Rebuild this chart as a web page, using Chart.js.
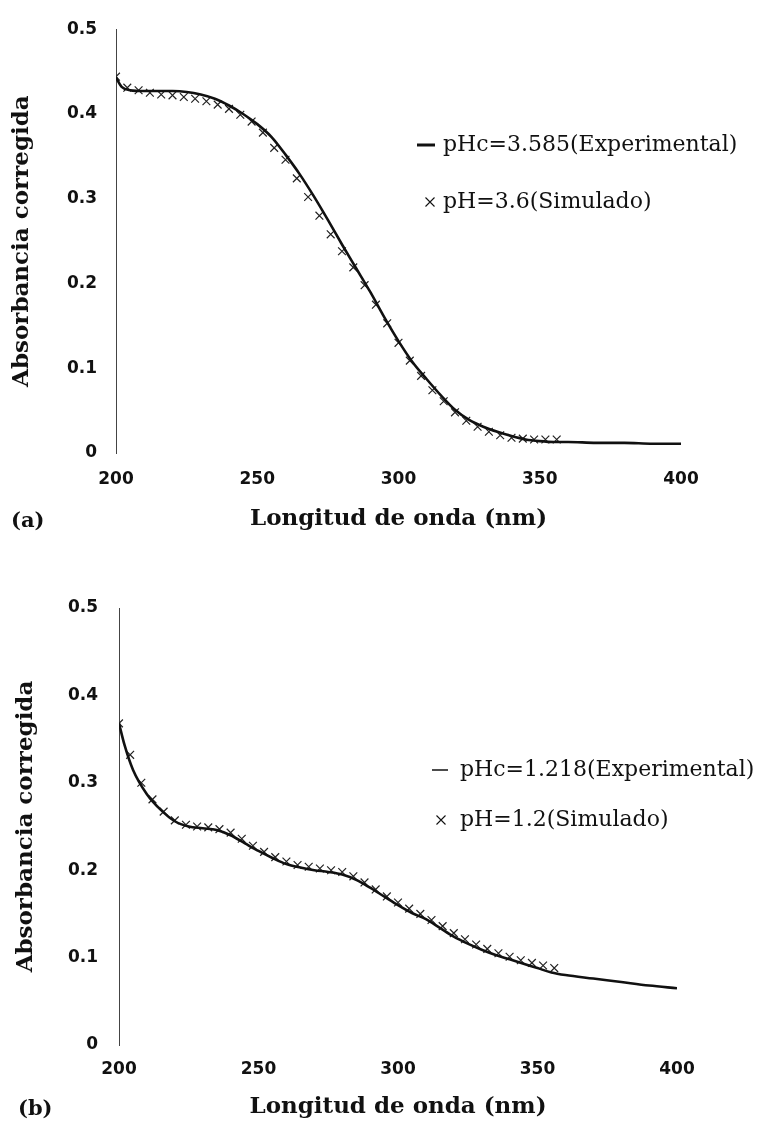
<!DOCTYPE html>
<html>
<head>
<meta charset="utf-8">
<script src="https://cdn.jsdelivr.net/npm/chart.js@4.4.1/dist/chart.umd.min.js"></script>
<style>
body { margin: 0; background: #fff; }
#wrap { position: relative; width: 758px; height: 1121px; }
canvas { position: absolute; left: 0; }
.tag { position: absolute; font: bold 21px "DejaVu Serif"; line-height: 24px; color: #111; }
</style>
</head>
<body>
<div id="wrap">
  <canvas id="chartA" width="758" height="545" style="top:0"></canvas>
  <canvas id="chartB" width="758" height="576" style="top:545px"></canvas>
  <div class="tag" style="left:11px;top:508px">(a)</div>
  <div class="tag" style="left:18px;top:1096px">(b)</div>
</div>
<script>
// wavelengths (nm)
const expWave = [200, 202, 205, 210, 215, 220, 225, 230, 235, 240, 245, 250, 255, 260, 265, 270, 275, 280, 285, 290,
                 295, 300, 305, 310, 315, 320, 325, 330, 335, 340, 345, 350, 355, 360, 370, 380, 390, 400];
const simWave = [200, 204, 208, 212, 216, 220, 224, 228, 232, 236, 240, 244, 248, 252, 256, 260, 264, 268, 272, 276,
                 280, 284, 288, 292, 296, 300, 304, 308, 312, 316, 320, 324, 328, 332, 336, 340, 344, 348, 352, 356];

// (a) pH 3.6
const expAbsA = [0.443, 0.432, 0.428, 0.427, 0.427, 0.427, 0.426, 0.423, 0.418, 0.410, 0.400, 0.388, 0.373, 0.352, 0.329, 0.303, 0.275, 0.246, 0.218, 0.190,
                 0.160, 0.132, 0.107, 0.087, 0.068, 0.051, 0.039, 0.031, 0.025, 0.020, 0.016, 0.014, 0.013, 0.013, 0.012, 0.012, 0.011, 0.011];
const simAbsA = [0.444, 0.431, 0.428, 0.425, 0.423, 0.422, 0.420, 0.418, 0.415, 0.411, 0.406, 0.399, 0.391, 0.378, 0.360, 0.346, 0.324, 0.302, 0.280, 0.258,
                 0.238, 0.219, 0.198, 0.175, 0.153, 0.130, 0.109, 0.091, 0.074, 0.061, 0.048, 0.038, 0.031, 0.025, 0.021, 0.018, 0.017, 0.016, 0.016, 0.016];

// (b) pH 1.2
const expAbsB = [0.368, 0.343, 0.315, 0.287, 0.269, 0.256, 0.250, 0.248, 0.246, 0.240, 0.231, 0.222, 0.214, 0.207, 0.203, 0.200, 0.198, 0.195, 0.189, 0.180,
                 0.170, 0.160, 0.151, 0.144, 0.134, 0.124, 0.116, 0.109, 0.103, 0.098, 0.093, 0.088, 0.083, 0.080, 0.076, 0.072, 0.068, 0.065];
const simAbsB = [0.368, 0.332, 0.300, 0.281, 0.267, 0.257, 0.252, 0.250, 0.249, 0.247, 0.243, 0.236, 0.228, 0.221, 0.215, 0.210, 0.206, 0.204, 0.202, 0.200,
                 0.198, 0.193, 0.186, 0.178, 0.170, 0.163, 0.156, 0.150, 0.143, 0.136, 0.128, 0.121, 0.115, 0.110, 0.105, 0.101, 0.097, 0.094, 0.091, 0.088];

const labelsA = ['pHc=3.585(Experimental)', 'pH=3.6(Simulado)'];
const labelsB = ['pHc=1.218(Experimental)', 'pH=1.2(Simulado)'];
const xTitle = 'Longitud de onda (nm)';
const yTitle = 'Absorbancia corregida';

function pts(xs, ys) {
    return xs.map((x, i) => ({x: x, y: ys[i]}));
}

// legend drawn at a free spot inside the plot, like the original
const sideLegend = {
    id: 'sideLegend',
    afterDatasetsDraw(chart, args, o) {
        const ctx = chart.ctx;
        ctx.save();
        ctx.font = o.font;
        ctx.fillStyle = '#111';
        ctx.strokeStyle = '#111';
        ctx.textBaseline = 'middle';
        ctx.textAlign = 'left';
        chart.data.datasets.forEach((ds, i) => {
            const y = o.y + i * o.gap;
            if (ds.showLine === false) {
                const r = 4.5;
                ctx.lineWidth = 1.1;
                ctx.beginPath();
                ctx.moveTo(o.markX - r, y - r); ctx.lineTo(o.markX + r, y + r);
                ctx.moveTo(o.markX - r, y + r); ctx.lineTo(o.markX + r, y - r);
                ctx.stroke();
            } else {
                ctx.lineWidth = o.lineW;
                ctx.beginPath();
                ctx.moveTo(o.lineX0, y); ctx.lineTo(o.lineX1, y);
                ctx.stroke();
            }
            ctx.fillText(ds.label, o.textX, y);
        });
        ctx.restore();
    }
};

function makeChart(id, expAbs, simAbs, labels, lay, leg) {
    return new Chart(document.getElementById(id), {
        type: 'line',
        data: {
            datasets: [{
                label: labels[0],
                data: pts(expWave, expAbs),
                borderColor: '#111',
                borderWidth: 2.6,
                pointRadius: 0,
                cubicInterpolationMode: 'monotone',
                fill: false
            }, {
                label: labels[1],
                data: pts(simWave, simAbs),
                showLine: false,
                pointStyle: 'crossRot',
                pointRadius: 5.5,
                borderColor: '#222',
                borderWidth: 1.2
            }]
        },
        options: {
            responsive: false,
            animation: false,
            layout: { padding: { left: 0, right: lay.right, top: lay.top, bottom: 0 } },
            plugins: {
                legend: { display: false },
                tooltip: { enabled: false },
                sideLegend: leg
            },
            scales: {
                x: {
                    type: 'linear',
                    min: 200,
                    max: 400,
                    ticks: {
                        stepSize: 50,
                        color: '#111',
                        padding: lay.xPad,
                        font: { family: 'DejaVu Sans', size: 17, weight: 'bold' }
                    },
                    grid: { display: false, drawTicks: false },
                    border: { display: false },
                    title: {
                        display: true,
                        text: xTitle,
                        color: '#111',
                        font: { family: 'DejaVu Serif', size: 23, weight: 'bold' },
                        padding: { top: 0, bottom: lay.xTitleBottom }
                    },
                    afterFit: (s) => { s.height = lay.xHeight; }
                },
                y: {
                    min: 0,
                    max: 0.5,
                    ticks: {
                        stepSize: 0.1,
                        color: '#111',
                        padding: lay.yPad,
                        font: { family: 'DejaVu Sans', size: 17, weight: 'bold' }
                    },
                    grid: { display: false, drawTicks: false },
                    border: { display: true, color: '#444', width: 1, dash: [6, 6] },
                    title: {
                        display: true,
                        text: yTitle,
                        color: '#111',
                        font: { family: 'DejaVu Serif', size: 23, weight: 'bold' },
                        padding: { top: lay.yTitleTop, bottom: 0 }
                    },
                    afterFit: (s) => { s.width = lay.left; }
                }
            }
        },
        plugins: [sideLegend]
    });
}

makeChart('chartA', expAbsA, simAbsA, labelsA,
    { left: 116, right: 77, top: 23, xHeight: 92, xPad: 16, xTitleBottom: 12, yPad: 19, yTitleTop: 8 },
    { font: '22px "DejaVu Serif"', y: 145, gap: 57, lineX0: 417, lineX1: 435, lineW: 3, markX: 430, textX: 443 });

makeChart('chartB', expAbsB, simAbsB, labelsB,
    { left: 119, right: 81, top: 63, xHeight: 76, xPad: 14, xTitleBottom: 0, yPad: 21, yTitleTop: 12 },
    { font: '22px "DejaVu Serif"', y: 225, gap: 50, lineX0: 432, lineX1: 448, lineW: 1.5, markX: 441, textX: 460 });
</script>
</body>
</html>
